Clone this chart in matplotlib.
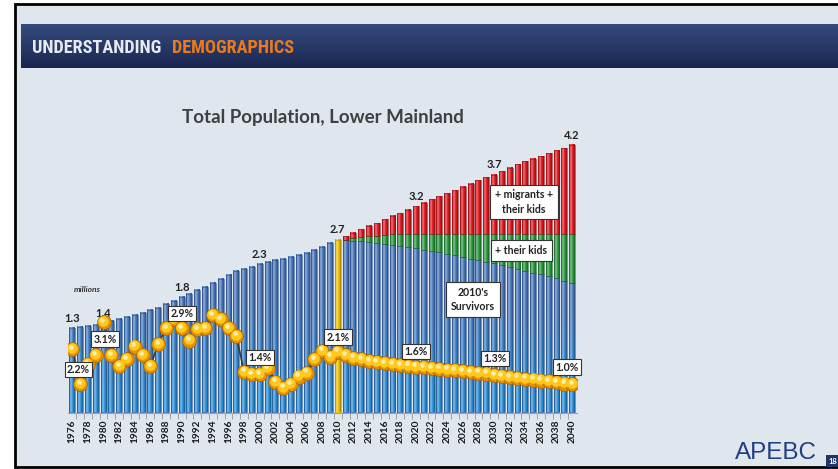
import numpy as np
import matplotlib
matplotlib.use("Agg")
import matplotlib.pyplot as plt
import matplotlib.colors as mcolors
import matplotlib.font_manager as fm
from matplotlib.patches import Rectangle
from matplotlib.transforms import ScaledTranslation

# ---------------- data ----------------
years = list(range(1976, 2041))
hist_total = [1.33, 1.34, 1.36, 1.38, 1.41, 1.44, 1.47, 1.50, 1.54, 1.57,
              1.61, 1.65, 1.70, 1.76, 1.81, 1.86, 1.92, 1.97, 2.04, 2.10,
              2.16, 2.22, 2.26, 2.29, 2.33, 2.37, 2.40, 2.42, 2.44, 2.47,
              2.50, 2.55, 2.60, 2.66, 2.72]                      # 1976-2010
proj_total = [2.77, 2.83, 2.88, 2.93, 2.98, 3.04, 3.09, 3.14, 3.19, 3.24,
              3.30, 3.35, 3.40, 3.45, 3.50, 3.55, 3.60, 3.65, 3.70, 3.74,
              3.79, 3.85, 3.90, 3.95, 3.99, 4.03, 4.08, 4.12, 4.16, 4.21]  # 2011-2040
survivors = [2.71, 2.70, 2.69, 2.68, 2.66, 2.65, 2.63, 2.62, 2.60, 2.58,
             2.56, 2.54, 2.52, 2.49, 2.47, 2.45, 2.42, 2.40, 2.37, 2.35,
             2.32, 2.29, 2.26, 2.23, 2.20, 2.17, 2.14, 2.11, 2.07, 2.04]
their_kids = [0.01, 0.04, 0.07, 0.09, 0.12, 0.14, 0.17, 0.19, 0.21, 0.23,
              0.25, 0.27, 0.29, 0.32, 0.34, 0.36, 0.39, 0.41, 0.44, 0.46,
              0.49, 0.52, 0.55, 0.58, 0.61, 0.64, 0.67, 0.70, 0.74, 0.77]
growth = [2.20, 1.03, 1.70, 2.00, 3.10, 2.00, 1.63, 1.87, 2.28, 2.00,
          1.63, 2.37, 2.89, 3.20, 2.89, 2.48, 2.86, 2.89, 3.33, 3.20,
          2.89, 2.64, 1.44, 1.36, 1.36, 1.56, 1.11, 0.91, 1.02, 1.28,
          1.41, 1.86, 2.14, 1.94, 2.11,
          2.00, 1.91, 1.86, 1.80, 1.76, 1.73, 1.70, 1.67, 1.64, 1.61,
          1.59, 1.56, 1.54, 1.51, 1.49, 1.46, 1.43, 1.41, 1.38, 1.33,
          1.30, 1.27, 1.24, 1.21, 1.18, 1.15, 1.12, 1.09, 1.05, 1.02]
label_years = [1976, 1980, 1990, 2000, 2010, 2020, 2030, 2040]
tick_years = years[::2]
segment_names = ["2010's\nSurvivors", "+ their kids", "+ migrants +\ntheir kids"]
title = "Total Population, Lower Mainland"
unit = "millions"

# ---------------- fonts ----------------
_fonts = fm.fontManager.ttflist
_names = {f.name for f in _fonts}
LATO = 'Lato' if 'Lato' in _names else 'DejaVu Sans'
head_fam, head_stretch = 'Open Sans', 'normal'
for fam in ['Liberation Sans Narrow', 'Roboto Condensed', 'Open Sans Condensed']:
    if fam in _names:
        head_fam, head_stretch = fam, 'normal'
        break
else:
    for fam in ['Noto Sans', 'DejaVu Sans']:
        if any(f.name == fam and f.stretch in ('condensed', 'semi-condensed') for f in _fonts):
            head_fam, head_stretch = fam, 'condensed'
            break
ARIAL = 'Liberation Sans' if 'Liberation Sans' in _names else 'DejaVu Sans'

# ---------------- figure ----------------
W, H = 838, 469
fig = plt.figure(figsize=(W / 100, H / 100), dpi=100)
fig.patch.set_facecolor('white')


def fx(px):
    return px / W


def fy(py):
    return 1 - py / H


bg = fig.add_axes([0, 0, 1, 1])
bg.axis('off')
bg.add_patch(Rectangle((15, 4), W, 463, facecolor='#dfe6ee', edgecolor='black', lw=2, zorder=1))
g = np.linspace(0, 1, 64)[:, None, None]
c_top = np.array(mcolors.to_rgb('#364b7e'))
c_bot = np.array(mcolors.to_rgb('#1a2650'))
band = c_top * (1 - g) + c_bot * g
band = np.repeat(band, 2, axis=1)
bg.imshow(band, extent=[20.7, W, 68.3, 25], aspect='auto', zorder=2, interpolation='bilinear')
bg.add_patch(Rectangle((826, 455), 14, 12, facecolor='#1f3566', edgecolor='none', zorder=3))
bg.text(833, 461.5, "18", color='white', fontsize=5.5, fontweight='bold', ha='center', va='center',
        family=LATO, zorder=4)
bg.set_xlim(0, W)
bg.set_ylim(H, 0)

renderer = fig.canvas.get_renderer()


def fit(t, target_px):
    bb = t.get_window_extent(renderer=renderer)
    t.set_fontsize(t.get_fontsize() * target_px / bb.width)
    return t.get_fontsize()


t1 = fig.text(fx(32), fy(47.5), "UNDERSTANDING", color='#e6ebf2', fontsize=15, fontweight='bold',
              family=head_fam, fontstretch=head_stretch, ha='left', va='center')
fs = fit(t1, 131)
t2 = fig.text(fx(172), fy(47.5), "DEMOGRAPHICS", color='#ec7a1c', fontsize=fs, fontweight='bold',
              family=head_fam, fontstretch=head_stretch, ha='left', va='center')

tt = fig.text(fx(323), fy(118), title, color='#404040', fontsize=12, fontweight='bold',
              family=LATO, ha='center', va='center')
fit(tt, 281)

ap = fig.text(fx(776), fy(453), "APEBC", color='#1f3f80', fontsize=18, family=ARIAL,
              ha='center', va='center')
fit(ap, 82)

# ---------------- main chart ----------------
x0_px, dx = 72.3, 7.81
xl = (1975.4, 2040.6)
base_px, ppm = 412.5, 63.6
ytop = 4.45
left_px = x0_px + (xl[0] - 1976) * dx
right_px = x0_px + (xl[1] - 1976) * dx
top_px = base_px - ytop * ppm
ax = fig.add_axes([fx(left_px), fy(base_px), (right_px - left_px) / W, (base_px - top_px) / H])
ax.patch.set_alpha(0)

bw = 0.76
hist_years = years[:35]
proj_years = years[35:]
migrants = [t - s - k for t, s, k in zip(proj_total, survivors, their_kids)]
kid_top = [s + k for s, k in zip(survivors, their_kids)]

u = np.linspace(0, 1, 14)
hl = 0.38 * np.exp(-((u - 0.33) / 0.2) ** 2)
dk = 0.35 * u ** 4 + 0.25 * (1 - u) ** 8


def shade(x, y0, h, col_bot, col_top=None, vref=1.6, z=2):
    if h <= 0:
        return
    ny = 24
    ys = np.linspace(y0 + h, y0, ny)
    cb = np.array(mcolors.to_rgb(col_bot))
    ct = np.array(mcolors.to_rgb(col_top if col_top else col_bot))
    t = np.clip(ys / vref, 0, 1)[:, None]
    col = cb * (1 - t) + ct * t
    img = col[:, None, :] * (1 - dk[None, :, None]) + (1 - col[:, None, :]) * hl[None, :, None]
    ax.imshow(np.clip(img, 0, 1), extent=[x - bw / 2, x + bw / 2, y0, y0 + h], aspect='auto',
              interpolation='bilinear', zorder=z)


BLUE_B, BLUE_T = '#2596e4', '#4a7cc4'
# historical bars
hist_colors = ['#4a7cc4'] * 34 + ['#f2c200']
hist_edges = ['#2c4f86'] * 34 + ['#b58f00']
ax.bar(hist_years, hist_total, width=bw, color=hist_colors, zorder=1)
ax.bar(hist_years, hist_total, width=bw, fill=False, edgecolor=hist_edges, lw=0.4, zorder=3)
for yr, v in zip(hist_years, hist_total):
    if yr == 2010:
        shade(yr, 0, v, '#f7c600')
    else:
        shade(yr, 0, v, BLUE_B, BLUE_T)
# projected stacked bars
ax.bar(proj_years, survivors, width=bw, color=BLUE_T, zorder=1)
ax.bar(proj_years, their_kids, bottom=survivors, width=bw, color='#2a9a3c', zorder=1)
ax.bar(proj_years, migrants, bottom=kid_top, width=bw, color='#e8151b', zorder=1)
ax.bar(proj_years, survivors, width=bw, fill=False, edgecolor='#2c4f86', lw=0.4, zorder=3)
ax.bar(proj_years, their_kids, bottom=survivors, width=bw, fill=False, edgecolor='#1d6a2a',
       lw=0.4, zorder=3)
ax.bar(proj_years, migrants, bottom=kid_top, width=bw, fill=False, edgecolor='#8a1414', lw=0.4,
       zorder=3)
for yr, s, k, m in zip(proj_years, survivors, their_kids, migrants):
    shade(yr, 0, s, BLUE_B, BLUE_T)
    shade(yr, s, k, '#2b9d3d')
    shade(yr, s + k, m, '#ea171d')
all_total = hist_total + proj_total

ax.set_xlim(*xl)
ax.set_ylim(0, ytop)
for s in ['top', 'right', 'left']:
    ax.spines[s].set_visible(False)
ax.spines['bottom'].set_color('#9aa3ad')
ax.spines['bottom'].set_linewidth(0.8)
ax.set_yticks([])
ax.set_xticks(tick_years)
ax.set_xticklabels([str(y) for y in tick_years], rotation=90, fontsize=7.3, fontweight='bold',
                   family=LATO, color='#1a1a1a')
ax.set_xticks([y + 0.5 for y in years[:-1]], minor=True)
ax.tick_params(axis='x', which='major', length=0, pad=5)
ax.tick_params(axis='x', which='minor', length=4, color='#9aa3ad', width=0.7)

# total labels
for yr in label_years:
    v = all_total[years.index(yr)]
    ax.annotate(f"{v:.1f}", (yr, v), xytext=(0, 3), textcoords='offset points', ha='center',
                va='bottom', fontsize=8, fontweight='bold', family=LATO, color='#222222', zorder=6)
ax.text(1977.9, 1.94, unit, fontsize=6, fontstyle='italic', fontweight='bold', family=LATO,
        color='#333333', ha='center', va='center')

box = dict(boxstyle='square,pad=0.45', facecolor='white', edgecolor='#333333', lw=0.8)
seg_pos = [(2027.3, 1.78), (2033.5, 2.55), (2033.8, 3.31)]
for name, (px_, py_) in zip(segment_names, seg_pos):
    ax.text(px_, py_, name, fontsize=7.6, fontweight='bold', family=LATO, color='#222222',
            ha='center', va='center', linespacing=1.35, bbox=box, zorder=7)

# ---------------- growth line ----------------
ax2 = ax.twinx()
r_lo = (415 - base_px) / 30
r_hi = (415 - top_px) / 30
ax2.set_ylim(r_lo, r_hi)
ax2.set_xlim(*xl)
ax2.axis('off')
ax2.plot(years, growth, '-', color='#3a3a3a', lw=1.2, zorder=2)
ax2.plot(years, growth, 'o', ms=10, mfc='#e99000', mec='#a86400', mew=0.5, ls='none', zorder=3)
off1 = ax2.transData + ScaledTranslation(-0.5 / 100, 1.2 / 100, fig.dpi_scale_trans)
ax2.plot(years, growth, 'o', ms=7.6, mfc='#ffc81c', mec='none', ls='none', zorder=4, transform=off1)
off2 = ax2.transData + ScaledTranslation(-1.5 / 100, 2.4 / 100, fig.dpi_scale_trans)
ax2.plot(years, growth, 'o', ms=3.3, mfc='#fff3b8', mec='none', ls='none', zorder=5, transform=off2,
         alpha=0.9)

g_pos = [(1976.8, 1.52), (1980.2, 2.53), (1990.05, 3.38), (2000.0, 1.92),
         (2010.05, 2.59), (2020.0, 2.12), (2030.1, 1.88), (2039.3, 1.59)]
gbox = dict(boxstyle='square,pad=0.22', facecolor='white', edgecolor='#333333', lw=0.8)
for yr, (px_, py_) in zip(label_years, g_pos):
    v = growth[years.index(yr)]
    ax2.text(px_, py_, f"{v:.1f}%", fontsize=7.6, fontweight='bold', family=LATO, color='#222222',
             ha='center', va='center', bbox=gbox, zorder=8)

fig.savefig('out.png', dpi=100, facecolor=fig.get_facecolor())
